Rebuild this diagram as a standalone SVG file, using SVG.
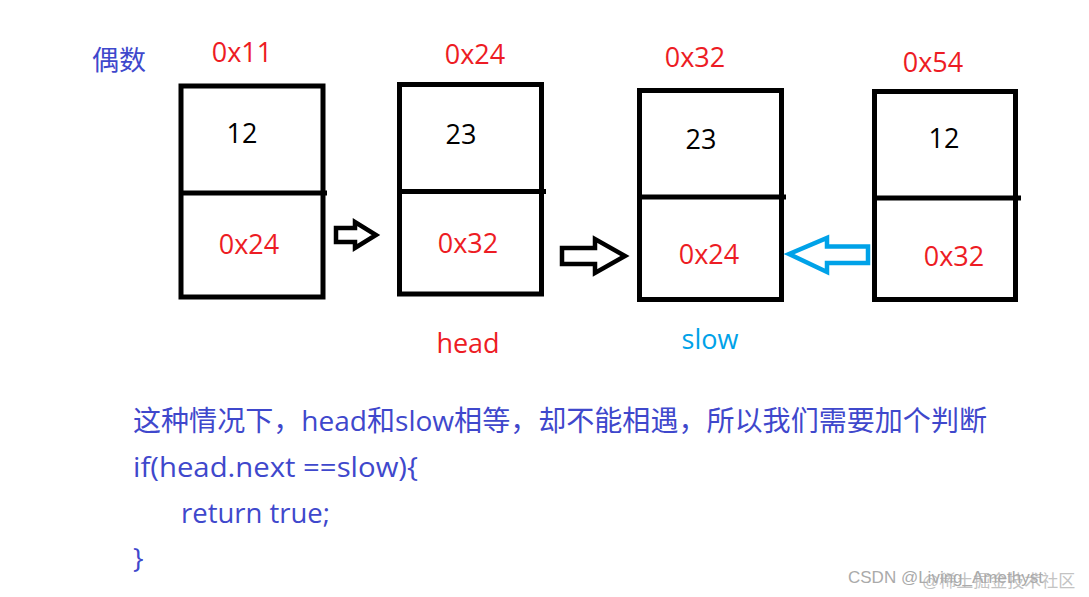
<svg xmlns="http://www.w3.org/2000/svg" width="1089" height="597" viewBox="0 0 1089 597">
<style>
.box{fill:none;stroke:#000;stroke-width:5}
.div{stroke:#000;stroke-width:5}
.t{font-family:"Open Sans","Noto Sans CJK SC",sans-serif;font-size:27px}
.c{font-size:28px}
.red{fill:#ED1C24}
.blk{fill:#000}
.ind{fill:#3F48CC}
.cy{fill:#00A2E8}
.arr{fill:none;stroke:#000;stroke-width:4.5;stroke-linejoin:miter}
.arrb{fill:none;stroke:#00A2E8;stroke-width:4.5}
.wm{font-family:"Liberation Sans","Noto Sans CJK SC",sans-serif;font-size:17px;fill:#aaa}
</style>
<rect width="1089" height="597" fill="#fff"/>
<text class="t ind" x="92" y="70">偶数</text>
<g id="node1">
<text class="t red" x="242" y="62" text-anchor="middle">0x11</text>
<rect class="box" x="181" y="86" width="142" height="211"/>
<line class="div" x1="181" y1="193" x2="327" y2="193"/>
<text class="t blk" x="242" y="143" text-anchor="middle">12</text>
<text class="t red" x="249" y="254" text-anchor="middle">0x24</text>
</g>
<g id="node2">
<text class="t red" x="475" y="64" text-anchor="middle">0x24</text>
<rect class="box" x="399.5" y="84.5" width="142" height="209.5"/>
<line class="div" x1="399.5" y1="191.5" x2="546" y2="191.5"/>
<text class="t blk" x="461" y="144" text-anchor="middle">23</text>
<text class="t red" x="468" y="253" text-anchor="middle">0x32</text>
<text class="t red" x="468" y="353" text-anchor="middle">head</text>
</g>
<g id="node3">
<text class="t red" x="695" y="67" text-anchor="middle">0x32</text>
<rect class="box" x="639.5" y="90.5" width="142" height="209"/>
<line class="div" x1="639.5" y1="197" x2="786" y2="197"/>
<text class="t blk" x="701" y="149" text-anchor="middle">23</text>
<text class="t red" x="709" y="264" text-anchor="middle">0x24</text>
<text class="t cy" x="710" y="349" text-anchor="middle">slow</text>
</g>
<g id="node4">
<text class="t red" x="933" y="72" text-anchor="middle">0x54</text>
<rect class="box" x="874.5" y="91.5" width="141" height="208"/>
<line class="div" x1="874.5" y1="198" x2="1021" y2="198"/>
<text class="t blk" x="944" y="148" text-anchor="middle">12</text>
<text class="t red" x="954" y="266" text-anchor="middle">0x32</text>
</g>
<g id="connectors">
<polygon class="arr" points="336,228 355,228 355,222 376,235 355,248 355,242 336,242"/>
<polygon class="arr" points="562,248 595,248 595,239 625,256 595,273 595,264 562,264"/>
<polygon class="arrb" points="789,254 827,238 827,246.5 868,246.5 868,263 827,263 827,272"/>
</g>
<g id="code">
<text class="t c ind" x="133" y="431" textLength="854" lengthAdjust="spacingAndGlyphs">这种情况下，head和slow相等，却不能相遇，所以我们需要加个判断</text>
<text class="t c ind" x="133" y="477" textLength="285" lengthAdjust="spacingAndGlyphs">if(head.next ==slow){</text>
<text class="t c ind" x="181" y="523" textLength="149" lengthAdjust="spacingAndGlyphs">return true;</text>
<text class="t c ind" x="133" y="568">}</text>
</g>
<text class="wm" x="848" y="583">CSDN @Living_Amethyst</text>
<text class="wm" x="922" y="587" opacity="0.7">@稀土掘金技术社区</text>
</svg>
